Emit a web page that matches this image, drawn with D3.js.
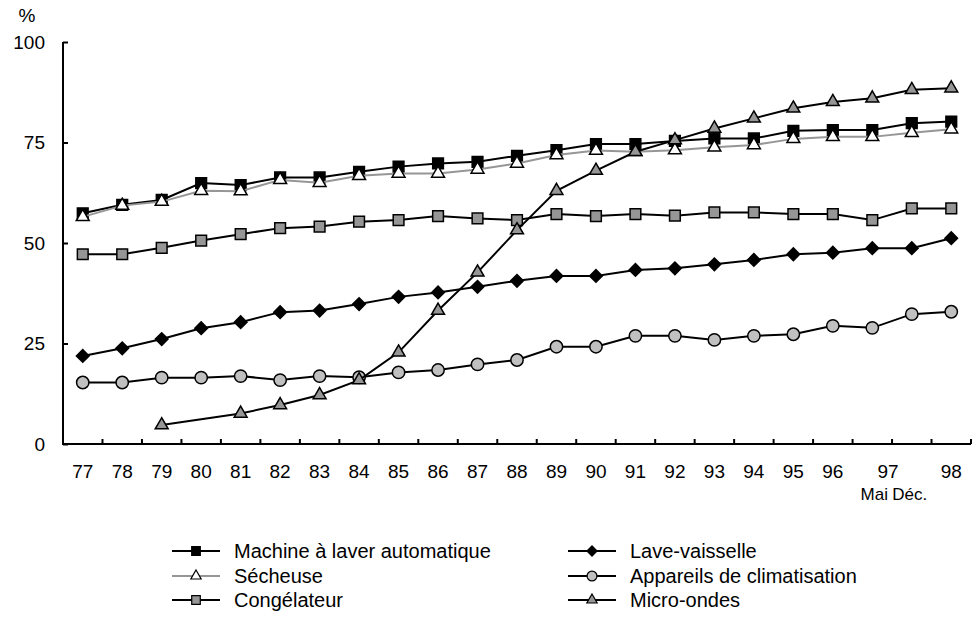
<!DOCTYPE html>
<html>
<head>
<meta charset="utf-8">
<script src="https://d3js.org/d3.v7.min.js"></script>
<style>
	body { margin: 0; background: #fff; }
	svg { font-family: "Liberation Sans", Arial, sans-serif; }
</style>
</head>
<body>
<div id="chart"></div>
<script>
// Équipement ménager, % des ménages, 1977 à 1998

var width = 977,
	height = 631;

// categories (23 points: 97 has mai and déc.)
var categories = ["77","78","79","80","81","82","83","84","85","86","87","88","89","90","91","92","93","94","95","96","97m","97d","98"];
var tickLabels = ["77","78","79","80","81","82","83","84","85","86","87","88","89","90","91","92","93","94","95","96","","","98"];
var yTicks = [0, 25, 50, 75, 100];

var machine     = [57.4, 59.5, 60.7, 64.9, 64.4, 66.3, 66.3, 67.7, 69.0, 69.8, 70.2, 71.7, 73.1, 74.6, 74.6, 75.4, 76.0, 76.0, 77.9, 78.1, 78.1, 79.8, 80.2];
var secheuse    = [56.5, 59.3, 60.3, 63.0, 62.9, 65.7, 65.0, 66.7, 67.3, 67.3, 68.3, 69.8, 71.9, 73.0, 72.7, 73.1, 73.8, 74.4, 75.9, 76.4, 76.4, 77.4, 78.3];
var congelateur = [47.2, 47.2, 48.8, 50.6, 52.2, 53.7, 54.1, 55.3, 55.7, 56.7, 56.1, 55.7, 57.2, 56.7, 57.2, 56.8, 57.6, 57.6, 57.2, 57.2, 55.7, 58.6, 58.6];
var laveVaisselle = [21.9, 23.8, 26.1, 28.8, 30.3, 32.8, 33.2, 34.8, 36.6, 37.7, 39.1, 40.6, 41.8, 41.8, 43.3, 43.7, 44.7, 45.8, 47.2, 47.6, 48.7, 48.7, 51.2];
var climatisation = [15.3, 15.3, 16.5, 16.5, 16.9, 15.9, 16.9, 16.6, 17.8, 18.4, 19.8, 20.9, 24.2, 24.2, 26.9, 26.9, 25.9, 26.9, 27.3, 29.4, 28.9, 32.3, 32.9];
var microOndes  = [null, null, 4.7, null, 7.6, 9.7, 12.2, 15.9, 22.8, 33.2, 42.7, 53.2, 63.0, 68.0, 72.7, 75.6, 78.5, 81.0, 83.5, 85.1, 86.0, 88.1, 88.5];

// series in drawing order (micro-ondes on top)
var series = [
	{name: "Machine à laver automatique", values: machine, line: "#000", shape: "square", fill: "#000"},
	{name: "Lave-vaisselle", values: laveVaisselle, line: "#000", shape: "diamond", fill: "#000"},
	{name: "Sécheuse", values: secheuse, line: "#969696", shape: "triangle", fill: "#fff"},
	{name: "Appareils de climatisation", values: climatisation, line: "#000", shape: "circle", fill: "#c0c0c0"},
	{name: "Congélateur", values: congelateur, line: "#000", shape: "square", fill: "#969696"},
	{name: "Micro-ondes", values: microOndes, line: "#000", shape: "triangle", fill: "#969696"}
];

var plot = {left: 63, right: 971, top: 42, bottom: 444};

var svg = d3.select("#chart").append("svg")
	.attr("width", width)
	.attr("height", height);

var x = d3.scaleBand()
	.domain(categories)
	.range([plot.left, plot.right])
	.padding(0);

var y = d3.scaleLinear()
	.domain([0, 100])
	.range([plot.bottom, plot.top]);

function symbolFor(shape){
	if(shape == "square") return d3.symbol().type(d3.symbolSquare).size(115)();
	if(shape == "diamond") return d3.symbol().type(d3.symbolSquare).size(80)();
	if(shape == "triangle") return d3.symbol().type(d3.symbolTriangle).size(72)();
	return d3.symbol().type(d3.symbolCircle).size(120)();
}

// y axis, ticks pointing inwards
var yAxis = d3.axisLeft(y)
	.tickValues(yTicks)
	.tickSize(-5)
	.tickPadding(18);

svg.append("g")
	.attr("transform", "translate(" + plot.left + ",0)")
	.call(yAxis)
	.call(g => g.select(".domain").attr("stroke-width", 2).attr("d", "M0," + plot.top + "V" + plot.bottom))
	.call(g => g.selectAll(".tick line").attr("stroke-width", 2))
	.call(g => g.selectAll("text").attr("font-size", 19).attr("fill", "#000").attr("font-family", "Liberation Sans, Arial, sans-serif"));

svg.append("text")
	.attr("x", 27)
	.attr("y", 22)
	.attr("text-anchor", "middle")
	.attr("font-size", 19)
	.text("%");

// x axis: ticks between categories, pointing up
var xAxisG = svg.append("g")
	.attr("transform", "translate(0," + plot.bottom + ")");

xAxisG.append("line")
	.attr("x1", plot.left - 1)
	.attr("x2", plot.right)
	.attr("stroke", "#000")
	.attr("stroke-width", 2);

var boundaries = categories.map(c => x(c) + x.bandwidth()).concat([plot.left]);
xAxisG.selectAll(".xtick")
	.data(boundaries)
	.enter()
	.append("line")
	.attr("class", "xtick")
	.attr("x1", d => d)
	.attr("x2", d => d)
	.attr("y1", 0)
	.attr("y2", -5)
	.attr("stroke", "#000")
	.attr("stroke-width", 2);

xAxisG.selectAll(".xlabel")
	.data(categories)
	.enter()
	.append("text")
	.attr("class", "xlabel")
	.attr("x", d => x(d) + x.bandwidth() / 2)
	.attr("y", 34)
	.attr("text-anchor", "middle")
	.attr("font-size", 19)
	.text((d, i) => tickLabels[i]);

// 97 sits between mai and déc.
xAxisG.append("text")
	.attr("x", x("97d") - 4)
	.attr("y", 34)
	.attr("text-anchor", "middle")
	.attr("font-size", 19)
	.text("97");

xAxisG.append("text")
	.attr("x", x("97m") + x.bandwidth() / 2 + 2)
	.attr("y", 56)
	.attr("text-anchor", "middle")
	.attr("font-size", 17)
	.text("Mai");

xAxisG.append("text")
	.attr("x", x("97d") + x.bandwidth() / 2 - 2)
	.attr("y", 56)
	.attr("text-anchor", "middle")
	.attr("font-size", 17)
	.text("Déc.");

// series lines and markers
var line = d3.line()
	.x(d => x(d.cat) + x.bandwidth() / 2)
	.y(d => y(d.v));

series.forEach(function(s){
	let pts = categories.map((c, i) => ({cat: c, v: s.values[i]}))
		.filter(d => d.v !== null);

	let g = svg.append("g").attr("class", "series");

	g.append("path")
		.attr("d", line(pts))
		.attr("fill", "none")
		.attr("stroke", s.line)
		.attr("stroke-width", 2);

	g.selectAll("path.marker")
		.data(pts)
		.enter()
		.append("path")
		.attr("class", "marker")
		.attr("d", symbolFor(s.shape))
		.attr("transform", d => "translate(" + (x(d.cat) + x.bandwidth() / 2) + "," + y(d.v) + ")" + (s.shape == "diamond" ? " rotate(45)" : ""))
		.attr("fill", s.fill)
		.attr("stroke", "#000")
		.attr("stroke-width", 1.5);
});

// legend, two columns
var colX = [172, 568],
	rowY = [551, 576, 600];

var legend = svg.append("g").attr("class", "legend");

series.forEach(function(s, k){
	let lx = colX[k % 2],
		ly = rowY[Math.floor(k / 2)];
	let item = legend.append("g")
		.attr("transform", "translate(" + lx + "," + ly + ")");

	item.append("line")
		.attr("x1", 0)
		.attr("x2", 48)
		.attr("stroke", s.line)
		.attr("stroke-width", 2);

	item.append("path")
		.attr("d", symbolFor(s.shape))
		.attr("transform", "translate(24,0) scale(0.8)" + (s.shape == "diamond" ? " rotate(45)" : ""))
		.attr("fill", s.fill)
		.attr("stroke", "#000")
		.attr("stroke-width", 1.5);

	item.append("text")
		.attr("x", 62)
		.attr("y", 7)
		.attr("font-size", 20)
		.text(s.name);
});
</script>
</body>
</html>
